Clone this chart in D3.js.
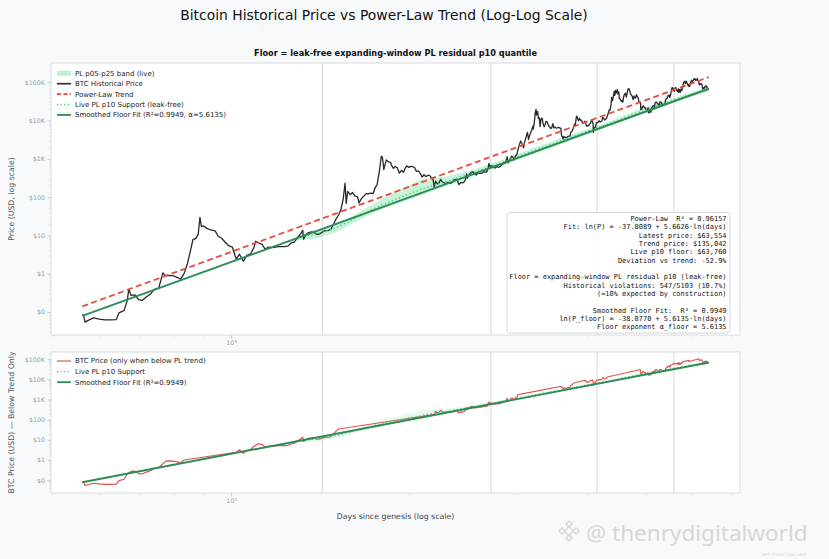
<!DOCTYPE html>
<html><head><meta charset="utf-8">
<script src="https://cdn.jsdelivr.net/npm/d3@7"></script>
<style>
body{margin:0;background:#f8f9fa;}
svg{display:block;font-family:"DejaVu Sans",sans-serif;}
</style></head><body><svg id="c" width="829" height="559"></svg>
<script>
// ---------------- DATA ----------------
const btcHistory = [
["2010-07-18",0.086],["2010-07-21",0.079],["2010-07-24",0.054],["2010-08-01",0.061],["2010-08-12",0.07],["2010-08-25",0.065],["2010-09-08",0.062],["2010-09-22",0.062],["2010-10-05",0.063],["2010-10-12",0.095],["2010-10-25",0.11],["2010-11-02",0.2],["2010-11-06",0.39],["2010-11-12",0.27],["2010-11-22",0.28],["2010-12-02",0.21],["2010-12-12",0.2],["2010-12-24",0.25],
["2011-01-05",0.3],["2011-01-15",0.39],["2011-01-28",0.42],["2011-02-09",1.05],["2011-02-18",0.87],["2011-03-02",0.9],["2011-03-14",0.87],["2011-03-28",0.78],["2011-04-05",0.72],["2011-04-16",1.0],["2011-04-26",1.7],["2011-05-05",3.4],["2011-05-15",7.6],["2011-05-25",8.3],["2011-06-02",10.6],["2011-06-08",29.6],["2011-06-13",17],["2011-06-21",17.6],["2011-07-01",15.4],["2011-07-15",13.8],["2011-08-01",13.1],["2011-08-12",9.5],["2011-08-25",8.4],["2011-09-08",6.5],["2011-09-22",5.3],["2011-10-05",4.9],["2011-10-20",2.4],["2011-11-02",3.2],["2011-11-18",2.1],["2011-12-02",3.0],["2011-12-18",3.3],["2011-12-31",4.7],
["2012-01-08",7.0],["2012-01-20",6.4],["2012-02-05",5.8],["2012-02-18",4.4],["2012-03-05",4.9],["2012-03-20",4.8],["2012-04-05",4.9],["2012-04-20",5.1],["2012-05-05",5.1],["2012-05-20",5.1],["2012-06-05",5.3],["2012-06-20",6.4],["2012-07-05",6.7],["2012-07-20",8.7],["2012-08-05",10.9],["2012-08-16",13.5],["2012-08-20",8.0],["2012-09-01",10.2],["2012-09-15",11.8],["2012-10-01",12.4],["2012-10-15",11.8],["2012-11-01",10.6],["2012-11-15",11.0],["2012-12-01",12.5],["2012-12-15",13.3],
["2013-01-01",13.4],["2013-01-15",14.2],["2013-02-01",20],["2013-02-15",27],["2013-03-01",34],["2013-03-15",47],["2013-03-29",90],["2013-04-09",230],["2013-04-16",68],["2013-04-25",140],["2013-05-10",115],["2013-05-25",131],["2013-06-10",106],["2013-06-25",103],["2013-07-05",70],["2013-07-20",91],["2013-08-05",106],["2013-08-20",123],["2013-09-05",122],["2013-09-20",126],["2013-10-05",122],["2013-10-20",180],["2013-11-01",205],["2013-11-10",330],["2013-11-18",500],["2013-11-30",1130],["2013-12-05",1150],["2013-12-10",980],["2013-12-18",520],["2013-12-25",660],
["2014-01-05",930],["2014-01-20",830],["2014-02-05",800],["2014-02-10",680],["2014-02-25",560],["2014-03-10",630],["2014-03-25",580],["2014-04-10",420],["2014-04-25",500],["2014-05-10",440],["2014-05-25",580],["2014-06-05",650],["2014-06-20",595],["2014-07-05",630],["2014-07-20",620],["2014-08-05",590],["2014-08-18",470],["2014-09-05",480],["2014-09-20",410],["2014-10-05",330],["2014-10-20",385],["2014-11-05",340],["2014-11-20",370],["2014-12-05",370],["2014-12-20",320],
["2015-01-01",315],["2015-01-14",178],["2015-01-25",260],["2015-02-10",220],["2015-02-25",237],["2015-03-10",290],["2015-03-25",245],["2015-04-10",236],["2015-04-25",225],["2015-05-10",240],["2015-05-25",237],["2015-06-10",229],["2015-06-25",243],["2015-07-10",285],["2015-07-25",290],["2015-08-10",265],["2015-08-24",210],["2015-09-10",240],["2015-09-25",235],["2015-10-10",245],["2015-10-25",285],["2015-11-04",400],["2015-11-11",310],["2015-11-25",365],["2015-12-10",415],["2015-12-25",455],
["2016-01-10",448],["2016-01-25",390],["2016-02-10",380],["2016-02-25",425],["2016-03-10",415],["2016-03-25",416],["2016-04-10",420],["2016-04-25",460],["2016-05-10",450],["2016-05-25",445],["2016-06-10",575],["2016-06-18",760],["2016-06-25",630],["2016-07-10",650],["2016-07-25",655],["2016-08-10",590],["2016-08-25",575],["2016-09-10",623],["2016-09-25",600],["2016-10-10",617],["2016-10-25",655],["2016-11-10",715],["2016-11-25",740],["2016-12-10",770],["2016-12-25",890],
["2017-01-04",1130],["2017-01-12",780],["2017-01-25",895],["2017-02-10",990],["2017-02-25",1180],["2017-03-10",1100],["2017-03-25",940],["2017-04-10",1200],["2017-04-25",1260],["2017-05-10",1750],["2017-05-25",2300],["2017-06-10",2900],["2017-06-25",2500],["2017-07-15",1930],["2017-07-25",2550],["2017-08-10",3400],["2017-08-25",4350],["2017-09-01",4900],["2017-09-14",3200],["2017-09-25",3900],["2017-10-10",4800],["2017-10-25",5700],["2017-11-07",7100],["2017-11-12",5900],["2017-11-25",8800],["2017-12-07",16000],["2017-12-17",19300],["2017-12-22",13800],
["2018-01-06",17100],["2018-01-17",11200],["2018-01-28",11700],["2018-02-06",6900],["2018-02-20",11200],["2018-03-05",11500],["2018-03-18",8200],["2018-04-01",6800],["2018-04-15",8000],["2018-04-25",9400],["2018-05-10",9300],["2018-05-25",7500],["2018-06-10",6800],["2018-06-25",6200],["2018-07-10",6400],["2018-07-25",8200],["2018-08-10",6300],["2018-08-25",6700],["2018-09-10",6300],["2018-09-25",6400],["2018-10-10",6550],["2018-10-25",6400],["2018-11-14",6200],["2018-11-20",4500],["2018-11-25",3900],["2018-12-05",3800],["2018-12-15",3250],["2018-12-25",3800],
["2019-01-10",3600],["2019-01-25",3550],["2019-02-10",3650],["2019-02-25",3850],["2019-03-10",3900],["2019-03-25",3950],["2019-04-05",5000],["2019-04-25",5300],["2019-05-10",6300],["2019-05-25",8000],["2019-06-10",7900],["2019-06-26",12900],["2019-07-10",12100],["2019-07-25",9800],["2019-08-10",11300],["2019-08-25",10100],["2019-09-10",10100],["2019-09-25",8500],["2019-10-10",8600],["2019-10-26",9500],["2019-11-10",8800],["2019-11-25",7100],["2019-12-10",7300],["2019-12-25",7250],
["2020-01-10",8000],["2020-01-25",8400],["2020-02-12",10300],["2020-02-25",9300],["2020-03-08",8100],["2020-03-12",4900],["2020-03-20",6200],["2020-04-01",6600],["2020-04-15",6700],["2020-04-29",8800],["2020-05-10",8700],["2020-05-25",8900],["2020-06-10",9800],["2020-06-25",9250],["2020-07-10",9250],["2020-07-25",9700],["2020-08-10",11900],["2020-08-25",11400],["2020-09-10",10300],["2020-09-25",10700],["2020-10-10",11300],["2020-10-25",13000],["2020-11-10",15300],["2020-11-25",18700],["2020-12-10",18300],["2020-12-25",24700],
["2021-01-08",40000],["2021-01-22",33000],["2021-02-08",46000],["2021-02-21",57000],["2021-02-28",45000],["2021-03-13",61000],["2021-03-25",52000],["2021-04-13",63500],["2021-04-25",49000],["2021-05-10",56000],["2021-05-19",37000],["2021-06-01",36500],["2021-06-21",31600],["2021-07-10",33800],["2021-07-20",29800],["2021-08-01",39800],["2021-08-15",47000],["2021-09-05",51700],["2021-09-21",40700],["2021-10-05",51500],["2021-10-20",66000],["2021-11-08",67600],["2021-11-25",57000],["2021-12-05",49300],["2021-12-20",46700],
["2022-01-05",43400],["2022-01-22",35000],["2022-02-10",43800],["2022-02-24",38300],["2022-03-10",39400],["2022-03-28",47100],["2022-04-15",40500],["2022-04-30",37700],["2022-05-10",31000],["2022-05-25",29500],["2022-06-10",29000],["2022-06-18",19000],["2022-07-01",19300],["2022-07-20",23200],["2022-08-10",23900],["2022-08-25",21400],["2022-09-10",21600],["2022-09-25",18900],["2022-10-10",19100],["2022-10-25",20100],["2022-11-05",21300],["2022-11-10",15900],["2022-11-21",15800],["2022-12-10",17100],["2022-12-30",16500],
["2023-01-14",20900],["2023-01-30",22800],["2023-02-15",24300],["2023-03-10",20100],["2023-03-20",28000],["2023-04-14",30500],["2023-04-30",29200],["2023-05-15",27100],["2023-06-15",25100],["2023-06-30",30500],["2023-07-15",30300],["2023-07-30",29300],["2023-08-18",26100],["2023-09-11",25100],["2023-09-30",27000],["2023-10-15",27000],["2023-10-25",34500],["2023-11-15",37900],["2023-11-30",37700],["2023-12-08",44000],["2023-12-25",43500],
["2024-01-11",46300],["2024-01-23",39500],["2024-02-10",47500],["2024-02-28",62500],["2024-03-14",73000],["2024-03-20",62000],["2024-04-01",69700],["2024-04-17",61300],["2024-05-01",58000],["2024-05-20",71400],["2024-06-07",71000],["2024-06-24",60200],["2024-07-05",56700],["2024-07-29",66800],["2024-08-05",54000],["2024-08-25",64000],["2024-09-06",53900],["2024-09-27",65800],["2024-10-10",60300],["2024-10-29",72700],["2024-11-13",90000],["2024-11-22",98500],["2024-12-05",98000],["2024-12-17",106000],["2024-12-30",92000],
["2025-01-20",106000],["2025-02-03",97500],["2025-02-27",84700],["2025-03-10",78500],["2025-03-25",87500],["2025-04-08",76300],["2025-04-22",93500],["2025-05-10",104000],["2025-05-22",111000],["2025-06-05",101500],["2025-06-20",103000],["2025-07-14",122000],["2025-07-30",118000],["2025-08-14",123500],["2025-08-25",111000],["2025-09-05",110700],["2025-09-20",115700],["2025-10-06",125000],["2025-10-10",113000],["2025-10-25",111000],["2025-11-05",103000],["2025-11-21",84500],["2025-12-05",91000],["2025-12-20",88000],
["2026-01-10",91000],["2026-01-28",84000],["2026-02-06",68000],["2026-02-20",67000],["2026-03-10",72000],["2026-03-25",70000],["2026-04-10",78000],["2026-04-25",76000],["2026-05-10",80000],["2026-05-25",74000],["2026-06-10",68000],["2026-06-25",66000],["2026-07-08",63554]
];
const halvingDates = ["2012-11-28","2016-07-09","2020-05-11","2024-04-20"];
// live expanding-window p05 / p10 / p25 support (days since genesis, USD)
const bandDays = [1290,1400,1500,1600,1750,1900,2100,2300,2500,2800,3300,3800,4300,4800,5300,5800,6395];
const bandP05  = [7.33,8.39,11.81,19.93,41.5,65.9,112.9,188.1,300.2,581,1460,3300,6607,12525,21860,36240,55870];
const bandP10  = [8.81,11.07,15.57,25.09,52.2,88.9,163.2,247.9,377.9,698.6,1796,3968,7762,15060,25690,41610,63760];
const bandP25  = [10.11,13.30,19.16,31.6,70.5,147.5,290,342.1,454.3,820.9,2160,4556,8710,17690,29490,46690,75390];
const trendFit = {intercept:-37.8089, slope:5.6626};
const floorFit = {intercept:-38.0770, slope:5.6135};
const yTickValues = [0.1,1,10,100,1000,10000,100000];
const yTickLabels = ["$0","$1","$10","$100","$1K","$10K","$100K"];
const xTickValues = [1000];
const xTickLabels = ["10³"];
const yDomainTop = [0.025, 316000];
const yDomainBottom = [0.023, 224000];
const statsLines = [
"Power-Law  R² = 0.96157",
"Fit: ln(P) = -37.8089 + 5.6626·ln(days)",
"Latest price: $63,554",
"Trend price: $135,042",
"Live p10 floor: $63,760",
"Deviation vs trend: -52.9%",
"",
"Floor = expanding-window PL residual p10 (leak-free)",
"Historical violations: 547/5103 (10.7%)",
"(≈10% expected by construction)",
"",
"Smoothed Floor Fit:  R² = 0.9949",
"ln(P_floor) = -38.0770 + 5.6135·ln(days)",
"Floor exponent α_floor = 5.6135"
];

// ---------------- PREP ----------------
const genesis = Date.UTC(2009,0,3);
const toDay = s => (Date.parse(s+"T00:00:00Z") - genesis)/864e5;
const btc = btcHistory.map(([s,p]) => ({day:toDay(s), price:p}));
const halvings = halvingDates.map(toDay);
const band = bandDays.map((d,i)=>({day:d, p05:bandP05[i], p10:bandP10[i], p25:bandP25[i]}));
const fitAt = (f,d) => Math.exp(f.intercept + f.slope*Math.log(d));
const dayExtent = d3.extent(btc, d=>d.day);
const lineDays = [dayExtent[0], dayExtent[1]];
const trendPts = lineDays.map(d=>({day:d, price:fitAt(trendFit,d)}));
const floorPts = lineDays.map(d=>({day:d, price:fitAt(floorFit,d)}));
const belowTrend = btc.filter(p => p.price < fitAt(trendFit,p.day));

// ---------------- LAYOUT ----------------
const svg = d3.select("#c");
svg.append("rect").attr("width",829).attr("height",559).attr("fill","#f8f9fa");
const L=51, R=740;
const top1=63, bot1=335, top2=352, bot2=493;
const lx = [Math.log10(dayExtent[0]), Math.log10(dayExtent[1])];
const pad = (lx[1]-lx[0])*0.05;
const x = d3.scaleLog().domain([10**(lx[0]-pad), 10**(lx[1]+pad)]).range([L,R]);
const yT = d3.scaleLog().domain(yDomainTop).range([bot1,top1]);
const yB = d3.scaleLog().domain(yDomainBottom).range([bot2,top2]);

svg.append("text").attr("x",384).attr("y",20).attr("text-anchor","middle")
  .attr("font-size",13.9).attr("fill","#111").text("Bitcoin Historical Price vs Power-Law Trend (Log-Log Scale)");
svg.append("text").attr("x",395.5).attr("y",56).attr("text-anchor","middle")
  .attr("font-size",8.2).attr("font-weight","bold").attr("fill","#111").text("Floor = leak-free expanding-window PL residual p10 quantile");

const defs = svg.append("defs");
function panel(id, y, yTop, yBot){
  defs.append("clipPath").attr("id",id).append("rect").attr("x",L).attr("y",yTop).attr("width",R-L).attr("height",yBot-yTop);
  svg.append("rect").attr("x",L).attr("y",yTop).attr("width",R-L).attr("height",yBot-yTop).attr("fill","#fff");
  const g = svg.append("g").attr("clip-path",`url(#${id})`);
  g.selectAll("line.h").data(halvings).join("line")
    .attr("x1",d=>x(d)).attr("x2",d=>x(d)).attr("y1",yTop).attr("y2",yBot)
    .attr("stroke","#d4d7da").attr("stroke-width",1);
  return g;
}
function axes(y, yBot, yTop){
  const ay = svg.append("g").attr("transform",`translate(${L},0)`)
    .call(d3.axisLeft(y).tickValues(yTickValues).tickFormat((d,i)=>yTickLabels[i]).tickSize(3.5).tickPadding(2.5));
  ay.select(".domain").remove();
  ay.selectAll("line").attr("stroke","#b5b8bb").attr("stroke-width",0.7);
  ay.selectAll("text").attr("fill","#9a9da0").attr("font-size",6.3).attr("font-family","DejaVu Sans");
  const [y0,y1] = y.domain();
  const minors=[];
  for(let e=Math.floor(Math.log10(y0)); e<=Math.ceil(Math.log10(y1)); e++)
    for(let k=2;k<10;k++){const v=k*10**e; if(v>=y0&&v<=y1) minors.push(v);}
  const am = svg.append("g").attr("transform",`translate(${L},0)`)
    .call(d3.axisLeft(y).tickValues(minors).tickFormat("").tickSize(1.8));
  am.select(".domain").remove();
  am.selectAll("line").attr("stroke","#c0c3c6").attr("stroke-width",0.5);
  const ax = svg.append("g").attr("transform",`translate(0,${yBot})`)
    .call(d3.axisBottom(x).tickValues(xTickValues).tickFormat((d,i)=>xTickLabels[i]).tickSize(3.5).tickPadding(2.5));
  ax.select(".domain").remove();
  ax.selectAll("line").attr("stroke","#b5b8bb").attr("stroke-width",0.7);
  ax.selectAll("text").attr("fill","#9a9da0").attr("font-size",6.3).attr("font-family","DejaVu Sans");
  const [x0,x1] = x.domain(); const xm=[];
  for(let e=Math.floor(Math.log10(x0)); e<=Math.ceil(Math.log10(x1)); e++)
    for(let k=2;k<10;k++){const v=k*10**e; if(v>=x0&&v<=x1) xm.push(v);}
  const axm = svg.append("g").attr("transform",`translate(0,${yBot})`)
    .call(d3.axisBottom(x).tickValues(xm).tickFormat("").tickSize(1.8));
  axm.select(".domain").remove();
  axm.selectAll("line").attr("stroke","#c0c3c6").attr("stroke-width",0.5);
  svg.append("rect").attr("x",L).attr("y",yTop).attr("width",R-L).attr("height",yBot-yTop)
    .attr("fill","none").attr("stroke","#d9dcdf").attr("stroke-width",1);
}

const GREEN="#2e8b57", DOT="#2ecc71", RED="#e74c3c", DARK="#26292c";

// ---------- TOP PANEL ----------
const g1 = panel("c1", 0, top1, bot1);
g1.append("path").datum(band).attr("fill","#2ecc71").attr("fill-opacity",0.26)
  .attr("d", d3.area().x(d=>x(d.day)).y0(d=>yT(d.p05)).y1(d=>yT(d.p25)));
g1.append("path").datum(btc).attr("fill","none").attr("stroke",DARK).attr("stroke-width",1.3)
  .attr("stroke-linejoin","round").attr("d", d3.line().x(d=>x(d.day)).y(d=>yT(d.price)));
g1.append("path").datum(trendPts).attr("fill","none").attr("stroke",RED).attr("stroke-width",1.8)
  .attr("stroke-dasharray","6,3.5").attr("d", d3.line().x(d=>x(d.day)).y(d=>yT(d.price)));
g1.append("path").datum(band).attr("fill","none").attr("stroke",DOT).attr("stroke-width",1.4)
  .attr("stroke-dasharray","1.2,2.6").attr("d", d3.line().x(d=>x(d.day)).y(d=>yT(d.p10)));
g1.append("path").datum(floorPts).attr("fill","none").attr("stroke",GREEN).attr("stroke-width",1.9)
  .attr("d", d3.line().x(d=>x(d.day)).y(d=>yT(d.price)));
axes(yT, bot1, top1);

const leg1 = [
  {t:"PL p05-p25 band (live)", k:"band"},
  {t:"BTC Historical Price", k:"line", c:DARK, w:1.6},
  {t:"Power-Law Trend", k:"line", c:RED, w:1.6, dash:"4,2.5"},
  {t:"Live PL p10 Support (leak-free)", k:"line", c:DOT, w:1.4, dash:"1.2,2.4"},
  {t:"Smoothed Floor Fit (R²=0.9949, α=5.6135)", k:"line", c:GREEN, w:1.8}
];
function legend(items, y0, dy){
  items.forEach((it,i)=>{
    const cy = y0 + i*dy;
    if(it.k==="band") svg.append("rect").attr("x",57).attr("y",cy-2.5).attr("width",14).attr("height",5).attr("fill","#2ecc71").attr("fill-opacity",0.3);
    else svg.append("line").attr("x1",57).attr("x2",71).attr("y1",cy).attr("y2",cy).attr("stroke",it.c).attr("stroke-width",it.w).attr("stroke-dasharray",it.dash||null);
    svg.append("text").attr("x",75).attr("y",cy+2.4).attr("font-size",7).attr("fill","#222").text(it.t);
  });
}
legend(leg1, 73.3, 10.4);

svg.append("rect").attr("x",507).attr("y",212.5).attr("width",223).attr("height",120.5).attr("rx",3)
  .attr("fill","#fff").attr("fill-opacity",0.92).attr("stroke","#c9ccd0").attr("stroke-width",0.8);
svg.append("g").selectAll("text").data(statsLines).join("text")
  .attr("x",726.5).attr("y",(d,i)=>220.8+i*8.35).attr("text-anchor","end")
  .attr("font-family","DejaVu Sans Mono").attr("font-size",6.95).attr("fill","#111")
  .attr("xml:space","preserve").style("white-space","pre").text(d=>d);

// ---------- BOTTOM PANEL ----------
const g2 = panel("c2", 0, top2, bot2);
g2.append("path").datum(band).attr("fill","#2ecc71").attr("fill-opacity",0.12)
  .attr("d", d3.area().x(d=>x(d.day)).y0(d=>yB(d.p05)).y1(d=>yB(d.p25)));
g2.append("path").datum(belowTrend).attr("fill","none").attr("stroke","#d9534f").attr("stroke-width",1.15)
  .attr("stroke-linejoin","round").attr("d", d3.line().x(d=>x(d.day)).y(d=>yB(d.price)));
g2.append("path").datum(band).attr("fill","none").attr("stroke",DOT).attr("stroke-width",1.4)
  .attr("stroke-dasharray","1.2,2.6").attr("d", d3.line().x(d=>x(d.day)).y(d=>yB(d.p10)));
g2.append("path").datum(floorPts).attr("fill","none").attr("stroke",GREEN).attr("stroke-width",1.9)
  .attr("d", d3.line().x(d=>x(d.day)).y(d=>yB(d.price)));
axes(yB, bot2, top2);
legend([
  {t:"BTC Price (only when below PL trend)", k:"line", c:"#d9534f", w:1.2},
  {t:"Live PL p10 Support", k:"line", c:DOT, w:1.4, dash:"1.2,2.4"},
  {t:"Smoothed Floor Fit (R²=0.9949)", k:"line", c:GREEN, w:1.8}
], 361, 10.6);

svg.append("text").attr("transform",`translate(14,${(top1+bot1)/2}) rotate(-90)`).attr("text-anchor","middle")
  .attr("font-size",7.8).attr("fill","#555").text("Price (USD, log scale)");
svg.append("text").attr("transform",`translate(14,${(top2+bot2)/2}) rotate(-90)`).attr("text-anchor","middle")
  .attr("font-size",7.8).attr("fill","#555").text("BTC Price (USD) — Below Trend Only");
svg.append("text").attr("x",(L+R)/2).attr("y",519).attr("text-anchor","middle")
  .attr("font-size",7.8).attr("fill","#444").text("Days since genesis (log scale)");

// watermark
const wm = svg.append("g").attr("opacity",0.55);
const lc=[569,531];
[[0,0,3.2],[-7,0,2.2],[7,0,2.2],[0,-7,2.2],[0,7,2.2]].forEach(([dx,dy,s])=>{
  wm.append("rect").attr("x",-s).attr("y",-s).attr("width",2*s).attr("height",2*s)
    .attr("transform",`translate(${lc[0]+dx},${lc[1]+dy}) rotate(45)`)
    .attr("fill","none").attr("stroke","#b9bcc0").attr("stroke-width",1.4);
});
wm.append("text").attr("x",586).attr("y",541).attr("font-family","Noto Sans").attr("font-size",22.5)
  .attr("fill","#b9bcc0").text("@ thenrydigitalworld");
svg.append("text").attr("x",806).attr("y",556).attr("text-anchor","end").attr("font-size",4.3)
  .attr("font-style","italic").attr("fill","#d4d6d9").text("BTC Power Law v8.8");
</script></body></html>
